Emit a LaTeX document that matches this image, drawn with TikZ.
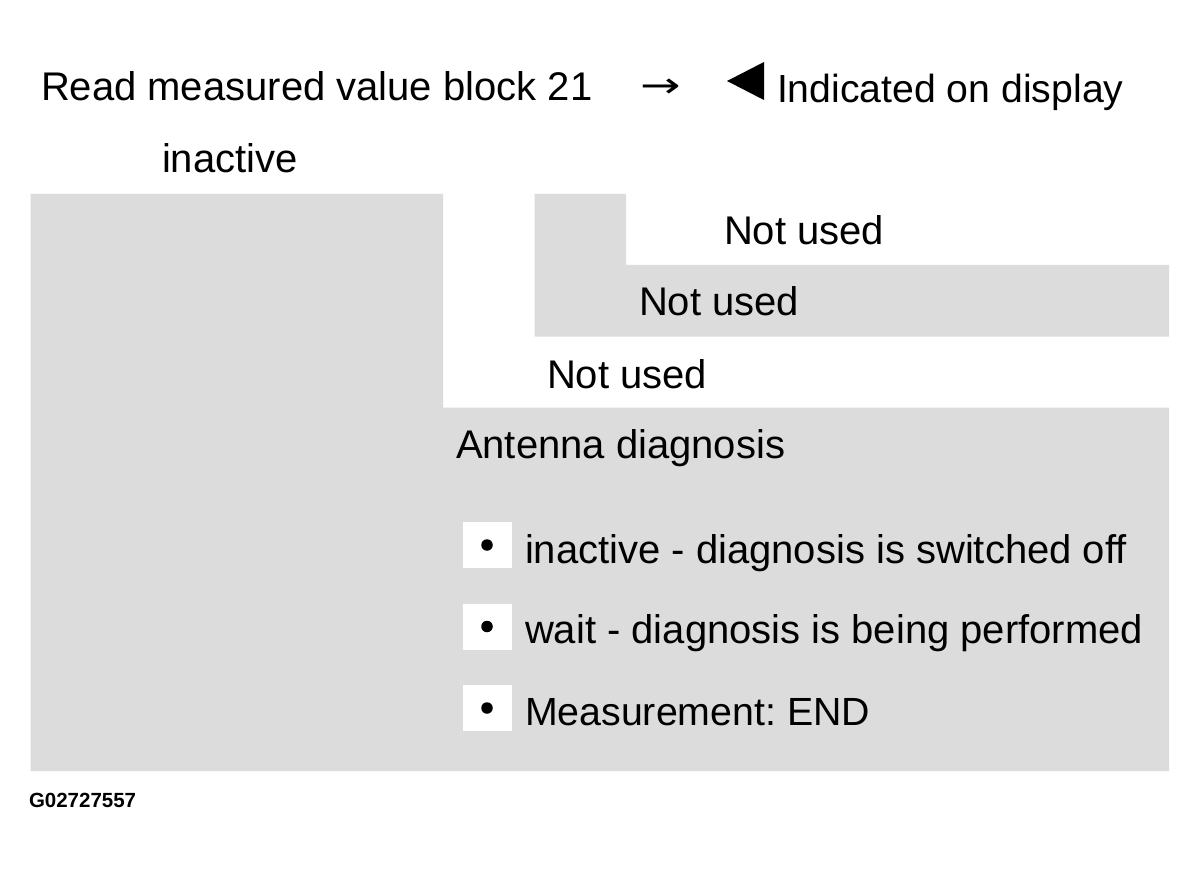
\documentclass[tikz,border=0pt]{standalone}
\usepackage{fontspec}
\setmainfont{Liberation Sans}
\newfontfamily\arrowfont{DejaVu Sans}
\definecolor{panelgray}{RGB}{220,220,220}
\tikzset{
  lbl/.style={anchor=base west, inner sep=0pt, outer sep=0pt, font=\fontsize{40}{48}\selectfont, text=black},
  code/.style={anchor=base west, inner sep=0pt, outer sep=0pt, font=\fontsize{20.5}{24}\selectfont\bfseries, text=black},
  bulletbox/.style={fill=white, draw=none, minimum width=49pt, minimum height=46pt, inner sep=0pt},
  dot/.style={circle, fill=black, minimum size=11.5pt, inner sep=0pt}
}
\begin{document}
\frenchspacing
\begin{tikzpicture}[x=1pt, y=-1pt]
\useasboundingbox (0,0) rectangle (1200,869);
\fill[white] (0,0) rectangle (1200,869);
% gray panels
\fill[panelgray] (30.5,194) -- (443,194) -- (443,407.5) -- (1169,407.5) -- (1169,771) -- (30.5,771) -- cycle;
\fill[panelgray] (534.5,194) -- (626,194) -- (626,265) -- (1169,265) -- (1169,336.5) -- (534.5,336.5) -- cycle;
% header
\node[lbl] (title) at (41,101) {Read measured value block 21};
\node[inner sep=0pt, font=\arrowfont\fontsize{44}{48}\selectfont, xscale=1.1, yscale=0.8] (arrow) at (661,88) {→};
\fill[black] (727,81) -- (764,62) -- (764,100) -- cycle;
\node[lbl, font=\fontsize{39.2}{48}\selectfont] (indicated) at (777,103) {Indicated on display};
\node[lbl] (inactive) at (162,173) {inactive};
% fields
\node[lbl] (nu1) at (724,245) {Not used};
\node[lbl] (nu2) at (639,316) {Not used};
\node[lbl] (nu3) at (547,388) {Not used};
\node[lbl] (antenna) at (456,458) {Antenna diagnosis};
% bullets
\node[bulletbox] (b1) at (487,545) {};
\node[bulletbox] (b2) at (487,626.5) {};
\node[bulletbox] (b3) at (487,708) {};
\node[dot] at (b1.center) {};
\node[dot] at (b2.center) {};
\node[dot] at (b3.center) {};
\node[lbl] (t1) at (525,563) {inactive - diagnosis is switched off};
\node[lbl] (t2) at (525,643) {wait - diagnosis is being performed};
\node[lbl, font=\fontsize{39.3}{48}\selectfont] (t3) at (525,725) {Measurement: END};
\node[code] (gcode) at (29,807) {G02727557};
\end{tikzpicture}
\end{document}
